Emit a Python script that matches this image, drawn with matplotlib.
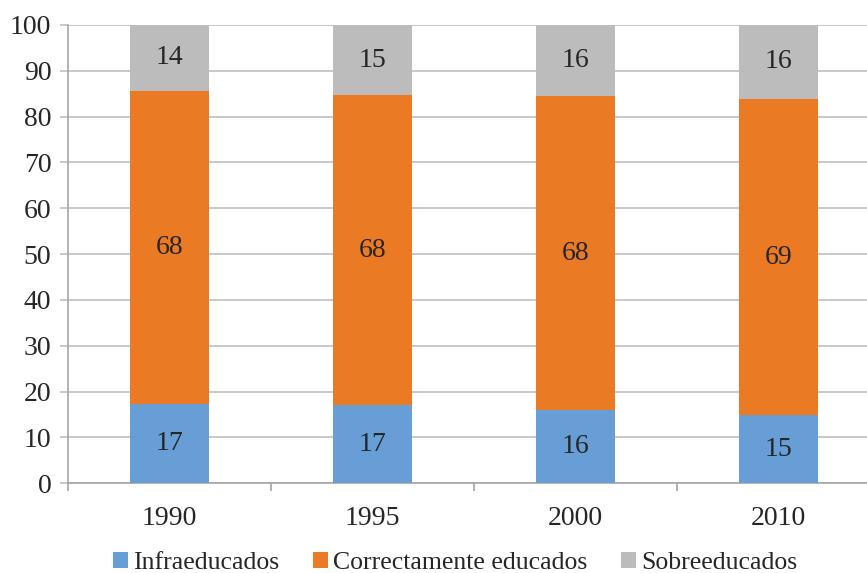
import matplotlib
matplotlib.use("Agg")
import matplotlib.pyplot as plt
import numpy as np

years = ["1990", "1995", "2000", "2010"]
infra = [17.4, 17.1, 16.0, 14.8]
correcto = [68.3, 67.6, 68.4, 69.1]
sobre = [14.3, 15.3, 15.6, 16.1]
series_names = ["Infraeducados", "Correctamente educados", "Sobreeducados"]
colors = ["#679ED5", "#EB7A25", "#BCBCBC"]

plt.rcParams['font.family'] = ['Liberation Serif', 'DejaVu Serif']
FS = 20

fig = plt.figure(figsize=(8.67, 5.73), dpi=100)
ax = fig.add_axes([68/867, 1-483.3/573, 812/867, (483.3-25)/573])

x = np.arange(len(years))
w = 0.394
bottom = np.zeros(len(years))
for vals, name, c in zip([infra, correcto, sobre], series_names, colors):
    vals = np.array(vals)
    bars = ax.bar(x, vals, w, bottom=bottom, color=c, label=name, zorder=3, linewidth=0)
    ax.bar_label(bars, labels=[f"{v:.0f}" for v in vals], label_type='center',
                 fontsize=FS, color='#262626')
    bottom += vals

ax.set_xlim(-0.5, 3.5)
ax.set_ylim(0, 100)
ax.set_yticks(range(0, 101, 10))
ax.yaxis.grid(True, color='#BFBFBF', linewidth=1.2, zorder=0)
ax.set_axisbelow(True)
ax.set_xticks(x)
ax.set_xticklabels(years)
ax.set_xticks([-0.5, 0.5, 1.5, 2.5, 3.5], minor=True)
ax.tick_params(axis='x', which='major', length=0, pad=16, labelsize=FS, labelcolor='#262626')
ax.tick_params(axis='x', which='minor', length=6, color='#A6A6A6', width=1.2)
ax.tick_params(axis='y', length=6, color='#BFBFBF', width=1.2, pad=6, labelsize=FS, labelcolor='#262626')
for s in ['top', 'right']:
    ax.spines[s].set_visible(False)
for s in ['left', 'bottom']:
    ax.spines[s].set_color('#A6A6A6')
    ax.spines[s].set_linewidth(1.2)

leg = fig.legend(loc='center', bbox_to_anchor=(0.525, 1 - 563/573), ncol=3, frameon=False,
                 fontsize=18.5, handlelength=0.6, handleheight=0.6, handletextpad=0.2,
                 columnspacing=1.3, labelcolor='#262626', borderpad=0)

fig.savefig("out.png", dpi=100)
